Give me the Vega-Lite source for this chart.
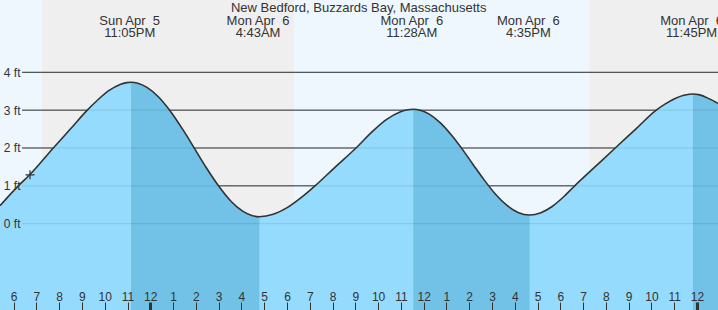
{
  "$schema": "https://vega.github.io/schema/vega-lite/v6.json",
  "width": 718,
  "height": 310,
  "padding": 0,
  "autosize": {"type": "none"},
  "background": "#ffffff",
  "config": {"view": {"stroke": null}, "font": "Liberation Sans"},
  "datasets": {
    "bands": [
      {"h0": -6.668, "h1": -4.824, "kind": "day"},
      {"h0": -4.824, "h1": 6.238, "kind": "night"},
      {"h0": 6.238, "h1": 19.2, "kind": "day"},
      {"h0": 19.2, "h1": 24.851, "kind": "night"}
    ],
    "grid": [{"ft": 0}, {"ft": 1}, {"ft": 2}, {"ft": 3}, {"ft": 4}],
    "tide": [
      {"h": -6.668, "ft": 0.476},
      {"h": -5.865, "ft": 1.0},
      {"h": -5.351, "ft": 1.3},
      {"h": -4.328, "ft": 2.0},
      {"h": -3.58, "ft": 2.5},
      {"h": -2.836, "ft": 3.0},
      {"h": -2.356, "ft": 3.282},
      {"h": -1.877, "ft": 3.52},
      {"h": -1.397, "ft": 3.68},
      {"h": -1.109, "ft": 3.727},
      {"h": -0.917, "ft": 3.736, "seg": "f1"},
      {"h": -0.617, "ft": 3.711, "seg": "f1"},
      {"h": -0.217, "ft": 3.602, "seg": "f1"},
      {"h": 0.283, "ft": 3.353, "seg": "f1"},
      {"h": 0.795, "ft": 2.985, "seg": "f1"},
      {"h": 1.383, "ft": 2.464, "seg": "f1"},
      {"h": 1.861, "ft": 1.998, "seg": "f1"},
      {"h": 2.383, "ft": 1.486, "seg": "f1"},
      {"h": 2.915, "ft": 1.009, "seg": "f1"},
      {"h": 3.483, "ft": 0.586, "seg": "f1"},
      {"h": 3.983, "ft": 0.331, "seg": "f1"},
      {"h": 4.383, "ft": 0.216, "seg": "f1"},
      {"h": 4.715, "ft": 0.185, "seg": "f1"},
      {"h": 5.326, "ft": 0.247},
      {"h": 5.938, "ft": 0.424},
      {"h": 6.549, "ft": 0.688},
      {"h": 7.16, "ft": 1.0},
      {"h": 8.0, "ft": 1.47},
      {"h": 8.96, "ft": 2.0},
      {"h": 9.72, "ft": 2.457},
      {"h": 10.305, "ft": 2.754},
      {"h": 10.89, "ft": 2.952},
      {"h": 11.241, "ft": 3.011},
      {"h": 11.475, "ft": 3.022, "seg": "f2"},
      {"h": 11.775, "ft": 2.998, "seg": "f2"},
      {"h": 12.175, "ft": 2.894, "seg": "f2"},
      {"h": 12.675, "ft": 2.658, "seg": "f2"},
      {"h": 13.175, "ft": 2.324, "seg": "f2"},
      {"h": 13.6, "ft": 1.99, "seg": "f2"},
      {"h": 14.075, "ft": 1.585, "seg": "f2"},
      {"h": 14.575, "ft": 1.164, "seg": "f2"},
      {"h": 15.075, "ft": 0.786, "seg": "f2"},
      {"h": 15.575, "ft": 0.491, "seg": "f2"},
      {"h": 16.075, "ft": 0.298, "seg": "f2"},
      {"h": 16.58, "ft": 0.23, "seg": "f2"},
      {"h": 17.075, "ft": 0.289},
      {"h": 17.57, "ft": 0.455},
      {"h": 18.065, "ft": 0.705},
      {"h": 18.56, "ft": 1.0},
      {"h": 19.45, "ft": 1.5},
      {"h": 20.34, "ft": 2.0},
      {"h": 21.24, "ft": 2.5},
      {"h": 22.14, "ft": 3.0},
      {"h": 22.54, "ft": 3.164},
      {"h": 22.945, "ft": 3.302},
      {"h": 23.35, "ft": 3.395},
      {"h": 23.59, "ft": 3.422},
      {"h": 23.75, "ft": 3.427, "seg": "f3"},
      {"h": 24.05, "ft": 3.404, "seg": "f3"},
      {"h": 24.45, "ft": 3.305, "seg": "f3"},
      {"h": 24.851, "ft": 3.18, "seg": "f3"}
    ],
    "events": [
      {"h": -0.917, "label": "Sun Apr\u00a0 5\n11:05PM"},
      {"h": 4.717, "label": "Mon Apr\u00a0 6\n4:43AM"},
      {"h": 11.467, "label": "Mon Apr\u00a0 6\n11:28AM"},
      {"h": 16.583, "label": "Mon Apr\u00a0 6\n4:35PM"},
      {"h": 23.75, "label": "Mon Apr\u00a0 6\n11:45PM"}
    ],
    "titles": [{"h": 9.078, "label": "New Bedford, Buzzards Bay, Massachusetts"}],
    "now": [{"h": -5.351, "ft": 1.29}]
  },
  "layer": [
    {
      "data": {"name": "bands"},
      "mark": {"type": "rect"},
      "encoding": {
        "x": {"field": "h0", "type": "quantitative", "scale": {"domain": [-6.668, 24.851], "nice": false, "zero": false},
          "axis": {"orient": "top", "offset": -310, "values": [-6,-5,-4,-3,-2,-1,0,1,2,3,4,5,6,7,8,9,10,11,12,13,14,15,16,17,18,19,20,21,22,23,24],
            "tickCount": 100,
            "labelExpr": "((datum.value % 12) + 12) % 12 == 0 ? '12' : '' + (((datum.value % 12) + 12) % 12)",
            "domain": false, "grid": false, "tickSize": 8, "tickColor": "#333333",
            "tickWidth": {"condition": {"test": "datum.value % 24 == 0", "value": 3}, "value": 1},
            "tickOffset": -1.6, "labelFontSize": 12, "labelColor": "#333333", "labelFont": "Liberation Sans",
            "labelBaseline": "alphabetic", "labelPadding": 2, "title": null, "zindex": 1, "labelOverlap": false, "labelFlush": false}},
        "x2": {"field": "h1"},
        "color": {"field": "kind", "type": "nominal", "scale": {"domain": ["day", "night"], "range": ["#eef7fe", "#efefef"]}, "legend": null}
      }
    },
    {
      "data": {"name": "grid"},
      "mark": {"type": "rule", "color": "#333333", "strokeWidth": 1},
      "encoding": {
        "y": {"field": "ft", "type": "quantitative", "scale": {"domain": [-2.28, 5.91], "nice": false, "zero": false},
          "axis": {"orient": "left", "offset": -22, "values": [0, 1, 2, 3, 4], "labelExpr": "datum.value + ' ft'",
            "domain": false, "ticks": false, "grid": false, "labelPadding": 2, "labelFontSize": 12, "labelColor": "#333333",
            "labelFont": "Liberation Sans", "title": null, "zindex": 1}},
        "x": {"datum": -5.70},
        "x2": {"datum": 24.851}
      }
    },
    {
      "data": {"name": "tide"},
      "mark": {"type": "area", "interpolate": "monotone", "color": "#95dbfd"},
      "encoding": {
        "x": {"field": "h", "type": "quantitative"},
        "y": {"field": "ft", "type": "quantitative", "stack": null},
        "y2": {"datum": -2.28}
      }
    },
    {
      "data": {"name": "tide"},
      "transform": [{"filter": "isValid(datum.seg)"}],
      "mark": {"type": "area", "interpolate": "monotone", "color": "#72c1e6"},
      "encoding": {
        "x": {"field": "h", "type": "quantitative"},
        "y": {"field": "ft", "type": "quantitative", "stack": null},
        "y2": {"datum": -2.28},
        "detail": {"field": "seg", "type": "nominal"}
      }
    },
    {
      "data": {"name": "grid"},
      "mark": {"type": "rule", "color": "#000000", "strokeWidth": 1, "opacity": 0.1},
      "encoding": {
        "y": {"field": "ft", "type": "quantitative"},
        "x": {"datum": -5.70},
        "x2": {"datum": 24.851}
      }
    },
    {
      "data": {"name": "tide"},
      "mark": {"type": "line", "interpolate": "monotone", "color": "#333333", "strokeWidth": 1.6},
      "encoding": {
        "x": {"field": "h", "type": "quantitative"},
        "y": {"field": "ft", "type": "quantitative"}
      }
    },
    {
      "data": {"name": "now"},
      "mark": {"type": "point", "shape": "M-1,0H1M0,-1V1", "size": 81, "filled": false, "stroke": "#333333", "strokeWidth": 1.2, "opacity": 1},
      "encoding": {
        "x": {"field": "h", "type": "quantitative"},
        "y": {"field": "ft", "type": "quantitative"}
      }
    },
    {
      "data": {"name": "events"},
      "mark": {"type": "text", "fontSize": 13, "color": "#333333", "font": "Liberation Sans", "baseline": "alphabetic", "align": "center", "lineBreak": "\n", "lineHeight": 12, "dx": -1.3},
      "encoding": {
        "x": {"field": "h", "type": "quantitative"},
        "y": {"datum": 5.258},
        "text": {"field": "label"}
      }
    },
    {
      "data": {"name": "titles"},
      "mark": {"type": "text", "fontSize": 13, "color": "#333333", "font": "Liberation Sans", "baseline": "alphabetic", "align": "center"},
      "encoding": {
        "x": {"field": "h", "type": "quantitative"},
        "y": {"datum": 5.601},
        "text": {"field": "label"}
      }
    }
  ]
}
